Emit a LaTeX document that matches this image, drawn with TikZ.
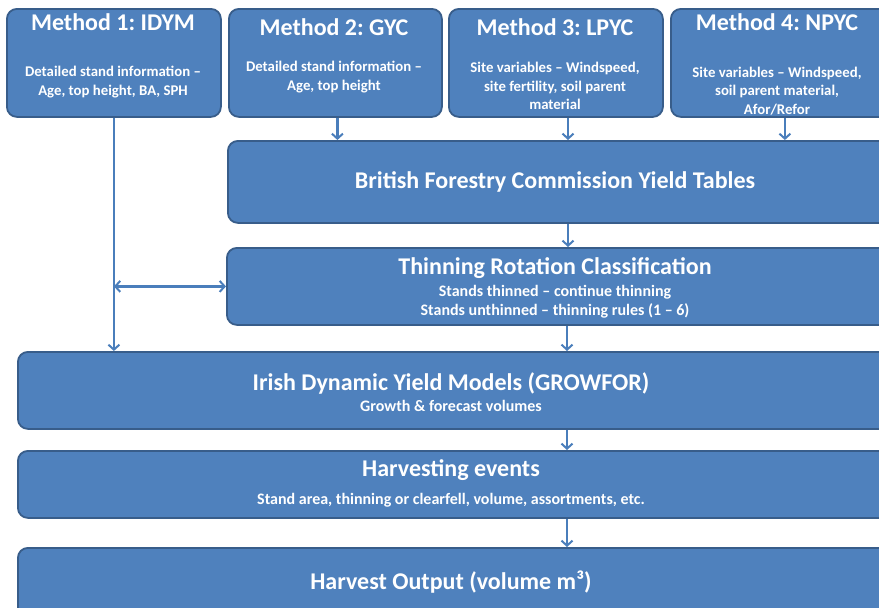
\documentclass[tikz,border=0pt]{standalone}
\usepackage{fontspec}
\setmainfont{Carlito}
\usetikzlibrary{arrows.meta,calc}
\definecolor{boxfill}{HTML}{4F81BD}
\definecolor{boxline}{HTML}{385D8A}
\definecolor{arrcol}{HTML}{4A7EBB}
\tikzset{
  box/.style={draw=boxline, line width=1.8pt, fill=boxfill, rounded corners=10pt, anchor=north west, inner sep=0pt},
  arr/.style={draw=arrcol, line width=2.2pt, -{Straight Barb[length=5pt,width=11pt,line width=2pt]}},
  biarr/.style={draw=arrcol, line width=2.2pt, {Straight Barb[length=5pt,width=11pt,line width=2pt]}-{Straight Barb[length=5pt,width=11pt,line width=2pt]}},
  ttl/.style={text=white, font=\frenchspacing\bfseries\fontsize{24}{28}\selectfont, inner sep=0pt},
  sub/.style={text=white, font=\frenchspacing\bfseries\fontsize{14.8}{18.5}\selectfont, align=center, inner sep=0pt},
  subb/.style={text=white, font=\frenchspacing\bfseries\fontsize{16}{19}\selectfont, align=center, inner sep=0pt},
}
\begin{document}
\frenchspacing
\begin{tikzpicture}[x=1pt,y=-1pt]
\useasboundingbox (0,0) rectangle (879,608);
\clip (0,0) rectangle (879,608);
% boxes
\node[box, minimum width=214pt, minimum height=108pt] (m1) at (6,8) {};
\node[box, minimum width=213pt, minimum height=108pt] (m2) at (228,8) {};
\node[box, minimum width=214pt, minimum height=108pt] (m3) at (448,8) {};
\node[box, minimum width=230pt, minimum height=108pt] (m4) at (670,8) {};
\node[box, minimum width=670pt, minimum height=82pt] (bt) at (227,140) {};
\node[box, minimum width=670pt, minimum height=77pt] (thin) at (226,247) {};
\node[box, minimum width=880pt, minimum height=77pt] (irish) at (17,351) {};
\node[box, minimum width=880pt, minimum height=67pt] (harv) at (17,450) {};
\node[box, minimum width=880pt, minimum height=80pt] (out) at (17,547) {};
% texts
\node[ttl] (t1) at (113,22) {Method 1: IDYM};
\node[sub] (s1) at (113,82) {Detailed stand information –\\Age, top height, BA, SPH};
\node[ttl] (t2) at (334,27) {Method 2: GYC};
\node[sub] (s2) at (334,77) {Detailed stand information –\\Age, top height};
\node[ttl] (t3) at (555,27) {Method 3: LPYC};
\node[sub] (s3) at (555,86) {Site variables – Windspeed,\\site fertility, soil parent\\material};
\node[ttl] (t4) at (777,22) {Method 4: NPYC};
\node[sub] (s4) at (777,91) {Site variables – Windspeed,\\soil parent material,\\Afor/Refor};
\node[ttl] (tb) at (555,182) {British Forestry Commission Yield Tables};
\node[ttl] (tt) at (555,268) {Thinning Rotation Classification};
\node[subb] (st) at (555,302) {Stands thinned – continue thinning\\Stands unthinned – thinning rules (1 – 6)};
\node[ttl] (ti) at (451,383) {Irish Dynamic Yield Models (GROWFOR)};
\node[subb] (si) at (451,406) {Growth \& forecast volumes};
\node[ttl] (th) at (451,470) {Harvesting events};
\node[subb] (sh) at (451,500) {Stand area, thinning or clearfell, volume, assortments, etc.};
\node[ttl] (to) at (451,582) {Harvest Output (volume m³)};
% connectors
\coordinate (spine) at (568,0);
\draw[arr] (m1.south) -- (m1.south |- irish.north);
\draw[biarr] (m1.south |- thin.west) -- (thin.west);
\draw[arr] ([xshift=2pt]m2.south) -- ([xshift=2pt]m2.south |- bt.north);
\draw[arr] (m3.south -| spine) -- (bt.north -| spine);
\draw[arr] ([xshift=-1pt]m4.south) -- ([xshift=-1pt]m4.south |- bt.north);
\draw[arr] (bt.south -| spine) -- (thin.north -| spine);
\draw[arr] ([xshift=-1pt]thin.south -| spine) -- ([xshift=-1pt]irish.north -| spine);
\draw[arr] ([xshift=-1pt]irish.south -| spine) -- ([xshift=-1pt]harv.north -| spine);
\draw[arr] ([xshift=-1pt]harv.south -| spine) -- ([xshift=-1pt]out.north -| spine);
\end{tikzpicture}
\end{document}
